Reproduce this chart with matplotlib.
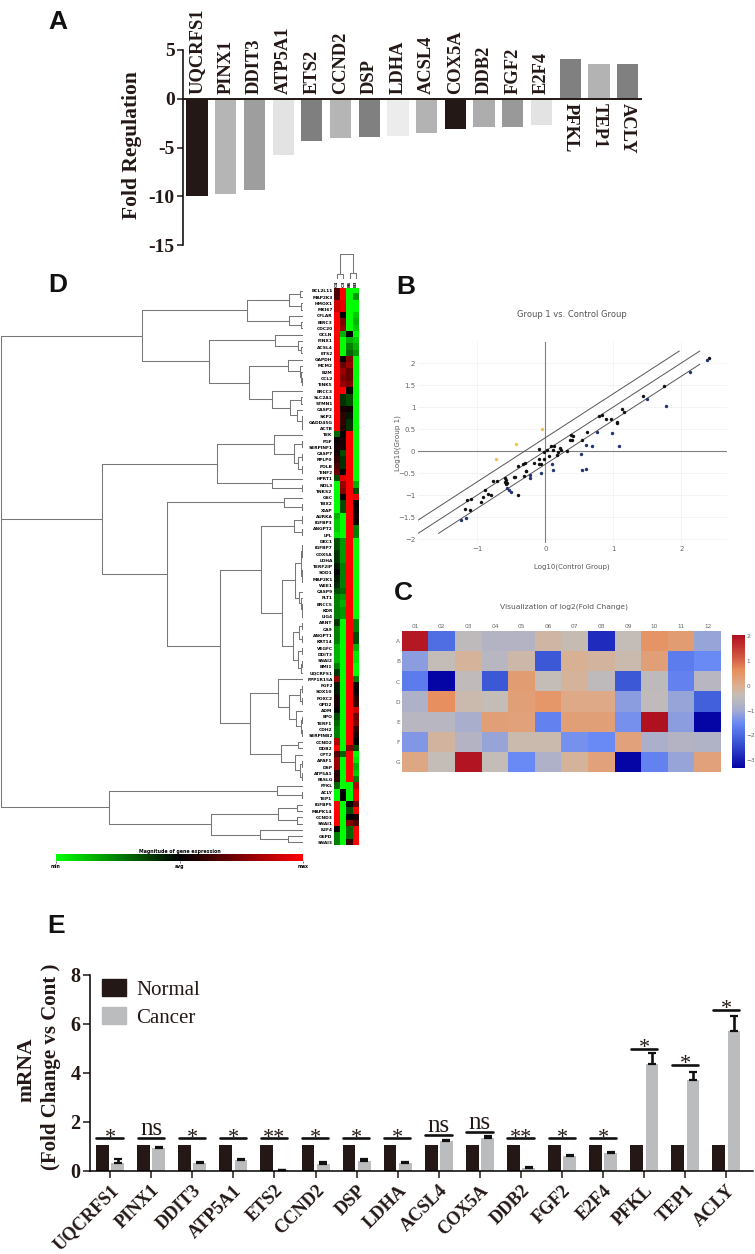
import numpy as np
import matplotlib
matplotlib.use("Agg")
import matplotlib.pyplot as plt
from matplotlib.colors import LinearSegmentedColormap
from matplotlib.patches import Patch

W, H = 755, 1254
SERIF = "Liberation Serif"

# panel A
genes_a = ["UQCRFS1", "PINX1", "DDIT3", "ATP5A1", "ETS2", "CCND2", "DSP", "LDHA", "ACSL4",
           "COX5A", "DDB2", "FGF2", "E2F4", "PFKL", "TEP1", "ACLY"]
fold_reg = [-10, -9.8, -9.4, -5.8, -4.3, -4.0, -3.95, -3.85, -3.5, -3.1, -2.9, -2.85, -2.65, 4.1, 3.6, 3.55]
greys_a = ["#231815", "#b5b5b5", "#9e9e9e", "#e3e3e3", "#7f7f7f", "#b5b5b5", "#808080", "#ececec",
           "#b3b3b3", "#231815", "#adadad", "#999999", "#e3e3e3", "#808080", "#b3b3b3", "#808080"]

# panel D
genes_d = ["BCL2L11", "MAP2K3", "HMOX1", "MKI67", "CFLAR", "BIRC3", "CDC20", "OCLN", "PINX1", "ACSL4", "ETS2",
           "GAPDH", "MCM2", "B2M", "CCL2", "TINK5", "ERCC3", "SLC2A1", "STMN1", "CASP2", "SKP2", "GADD45G", "ACTB",
           "TEK", "PGF", "SERPINF1", "CASP7", "RPLP0", "POLB", "TINF2", "HPRT1", "NOL3", "TNKS2", "GSC", "TBX2",
           "XIAP", "AURKA", "IGFBP3", "ANGPT2", "LPL", "DKC1", "IGFBP7", "COX5A", "LDHA", "TERF2IP", "SOD1",
           "MAP2K1", "WEE1", "CASP9", "FLT1", "ERCC5", "KDR", "LIG4", "ARNT", "CA9", "ANGPT1", "KRT14", "VEGFC",
           "DDIT3", "SNAI2", "BMI1", "UQCRFS1", "PPP1R15A", "FGF2", "SOX10", "FOXC2", "GPD2", "ADM", "EPO", "TERF1",
           "CDH2", "SERPINB2", "CCND2", "DDB2", "CPT2", "APAF1", "DSP", "ATP5A1", "FASLG", "PFKL", "ACLY", "TEP1",
           "IGFBP5", "MAPK14", "CCND3", "SNAI1", "E2F4", "G6PD", "SNAI3"]
samples_d = ["C4", "C3", "B6", "B3"]
heat_col1 = [.3, .3, .8, .8, 1, 1, 1, 1, 1, 1, 1, 1, 1, 1, 1, 1, 1, 1, 1, 1, 1, 1, 1,
             -.4, .05, .1, .1, .2, .3, .4, -.3, -1, -1, -1, -1, -1, -.7, -.8, -.8, -.9,
             -.3, -.3, -.2, -.2, -.1, 0, -.1, -.15, -.3, -.5, -.5, -.5, -.5, -.2, -.5, -.5, -.5, -.7, -.7, -.7, -.5, -.2,
             .6, -.1, -.1, .1, .1, 0, -.3, -.4, -.5, -.5, .7, 1, .3, .6, .6, .15, .2,
             -.4, -1, -1, 1, 1, 1, 1, 0, -.5, -.5]
heat_col2 = [1, 1, .9, .9, 0, .5, .6, -.7, -1, -1, -1, 0, .4, .6, .5, .6, 1, -.2, -.2, .1, .2, .2, .15,
             0, .1, .1, -.3, -.2, -.2, 0, .9, .6, .5, 0, -.3, -.3, -1, -1, -1, -1,
             -.6, -.6, -.6, -.6, -.5, -.5, -.5, -.5, -.4, -.6, -.7, -.6, -.6, -1, -1, -1, -1, -1, -1, -1, -1, -1,
             -1, -1, -1, -1, -1, -1, -1, -1, -1, -1, -1, -1, -.4, -1, -1, -1, -1,
             -1, 0, 0, -1, -1, -1, -1, -1, -1, -1]
heat_col3 = [-1, -1, -1, -1, -1, -1, -1, 0, -.7, -.5, -.4, .5, .6, .4, .4, .5, 0, -.3, -.3, .05, -.1, -.2, -.2,
             1, 1, 1, 1, 1, 1, 1, 1, 1, 1, 1, 1, 1, 1, 1, 1, 1,
             1, 1, 1, 1, 1, 1, 1, 1, 1, 1, 1, 1, 1, 1, 1, 1, 1, 1, 1, 1, 1, 1,
             1, 1, 1, 1, 1, 1, 1, 1, 1, 1, 1, .5, 1, 1, 1, 1, 1,
             -1, -1, -1, 0, -.3, 0, .5, -.4, -.4, .2]
heat_col4 = [-1, -.6, -1, -1, -.8, -.7, -.8, -1, -.8, -.7, -.6, -1, -1, -1, -1, -1, -1, -1, -1, -1, -1, -1, -1,
             -1, -1, -1, -1, -1, -1, -1, -1, -.7, -.3, .9, 0, .05, .1, .05, -.5, -.5,
             -1, -1, -1, -1, -1, -1, -1, -1, -1, -1, -1, -1, -1, -.5, -.5, -.3, -.3, -.7, -.9, -.9, -1, -1,
             -.5, .05, .05, .15, .2, .8, .4, .5, .2, .1, 0, -.3, -1, -.9, -.7, -.8, -.5,
             .7, 1, 1, .4, 1, .1, .3, 1, 1, 1]

# merge distances of the gene tree, leaves are row numbers
tree_top = (161,
            (56, (14, (3, 0, 1), (2, 2, 3)), (14.5, 4, (2, 5, 6))),
            (94,
             (28, 7, (5, 8, (2, 9, 10))),
             (54.5,
              (15.5, 11, (3, 12, (2, 13, (1, 14, 15)))),
              (31.3, 16, (13.3, (2, 17, 18), (6, 19, (1, 20, (1, 21, 22))))))))
tree_mid = (201,
            (86.3,
             (28.7, 23, (9, (1, 24, 25), (5, (1, 26, 27), (1, 28, 29)))),
             (31, 30, (1, 31, 32))),
            (136.3,
             (19.3, 33, (1, 34, 35)),
             (83.3,
              (42,
               (9, (1, 36, 37), (1, 38, 39)),
               (21,
                (8,
                 (2.5, (1, (0.5, 40, 41), (0.5, 42, 43)), (1, (0.5, 44, 45), (0.5, 46, 47))),
                 (4, 48, (2, 49, (1.5, 50, (1, 51, 52))))),
                (10,
                 (4, (1, 53, 54), (1, 55, 56)),
                 (5, (1, 57, 58), (2, (1, 59, 60), 61))))),
              (53,
               (24.7, 62, (13.7, (3, (1, 63, 64), (1, 65, 66)), (7, 67, (2, (1, 68, 69), (1, 70, 71))))),
               (22, (5, 72, 73), (8, 74, (3, (1, 75, 76), (1, 77, 78))))))))
tree_bot = (194,
            (25.7, 79, (1, 80, 81)),
            (92,
             (24.7, (6, 82, 83), (6, 84, 85)),
             (43.3, 86, (14.7, 87, 88))))
tree_root = (302.5, tree_top, tree_mid, tree_bot)
tree_cols = (25, (5, 0, 1), (6, 2, 3))

# panel B
x_black = [2.41, 1.74, 1.44, 1.13, 1.16, .79, .84, .89, .97, 1.05, 1.05, .62, .38, .41, .36, .39, .54, -.09, .08, .13,
           .03, -.015, .12, .22, .235, .18, .17, .32, .05, -.015, -.09, -.09, -.07, -.17, -.33, -.30, -.40, -.29, -.28,
           -.31, -.46, -.44, -.59, -.58, -.59, -.56, -.58, -.71, -.77, -.40, -.88, -.84, -.80, -.92, -.94, -1.09, -1.15,
           -1.18, -1.10]
y_black = [2.12, 1.48, 1.24, .96, .89, .80, .81, .73, .73, .67, .64, .43, .37, .34, .24, .24, .24, .05, .11, .11,
           .02, -.02, .02, .06, .03, -.03, -.08, .01, -.11, -.17, -.18, -.30, -.29, -.27, -.29, -.28, -.33, -.45, -.46,
           -.56, -.58, -.58, -.61, -.66, -.70, -.72, -.76, -.69, -.69, -1.01, -.89, -.97, -1.01, -1.05, -1.16, -1.10,
           -1.12, -1.31, -1.34]
x_blue = [2.38, 2.13, 1.49, 1.77, .76, .98, .60, .68, 1.08, .52, .10, .12, -.07, .54, .60, -.22, -.22, -.56, -.53, -.51,
          -1.17, -1.24]
y_blue = [2.06, 1.80, 1.18, 1.02, .43, .41, .13, .11, .11, -.06, -.30, -.42, -.51, -.44, -.40, -.54, -.61, -.85, -.89,
          -.94, -1.53, -1.57]
x_yellow = [-.73, -.43, -.05]
y_yellow = [-.19, .17, .49]
line_x = [-1.87, 2.27]
fold_offset = 0.301

# panel C
plate_rows = ["A", "B", "C", "D", "E", "F", "G"]
plate_cols = ["01", "02", "03", "04", "05", "06", "07", "08", "09", "10", "11", "12"]
row_a = [1.9, -1.9, -.5, -.7, -.7, -.2, -.35, -2.8, -.4, .5, .35, -1.1]
row_b = [-1.2, -.4, -.1, -.6, -.25, -2.2, -.05, -.15, -.3, .3, -1.7, -1.5]
row_c = [-1.7, -3.3, -.45, -2.2, .35, -.4, -.1, -.5, -2.2, -.5, -1.6, -.6]
row_d = [-.8, .6, -.3, -.4, .3, .45, .1, .1, -1.2, -.45, -1.1, -2.1]
row_e = [-.6, -.6, -.9, .3, .25, -1.6, .3, .3, -1.4, 2.0, -1.2, -3.3]
row_f = [-1.3, -.15, -.7, -1.1, -.3, -.3, -1.4, -1.5, .25, -.85, -.7, -.75]
row_g = [.15, -.4, 1.95, -.4, -1.5, -.8, -.1, .25, -3.3, -1.6, -1.1, .25]

# panel E
genes_e = genes_a
normal = [1.05] * 16
cancer = [.31, .93, .34, .45, .05, .27, .42, .34, 1.21, 1.35, .14, .61, .73, 4.38, 3.7, 5.7]
cancer_err = [.17, .04, .03, .04, 0, .08, .08, .03, .06, .09, .04, .06, .06, .44, .33, .63]
sig_h = [1.33, 1.33, 1.33, 1.33, 1.33, 1.33, 1.33, 1.33, 1.48, 1.6, 1.33, 1.33, 1.33, 4.97, 4.34, 6.57]
sig_txt = ["*", "ns", "*", "*", "**", "*", "*", "*", "ns", "ns", "**", "*", "*", "*", "*", "*"]


def px_axes(x0, y0, x1, y1):
    return fig.add_axes([x0 / W, 1 - y1 / H, (x1 - x0) / W, (y1 - y0) / H])


def fig_text(x, y, s, **kw):
    fig.text(x / W, 1 - y / H, s, **kw)


def draw_tree(ax, node, flip=False):
    # n-ary merge: stem from each child to this height, then one bar across them
    if isinstance(node, int):
        return node, 0
    d = node[0]
    pos = []
    for child in node[1:]:
        p, cd = draw_tree(ax, child, flip)
        pos.append(p)
        xs, ys = [cd, d], [p, p]
        ax.plot(*((ys, xs) if flip else (xs, ys)), color="#777777", lw=0.75, solid_capstyle="butt")
    xs, ys = [d, d], [min(pos), max(pos)]
    ax.plot(*((ys, xs) if flip else (xs, ys)), color="#777777", lw=0.75, solid_capstyle="projecting")
    return (min(pos) + max(pos)) / 2, d


fig = plt.figure(figsize=(W / 100, H / 100), dpi=100)

for letter, x, y in [("A", 48, 29), ("D", 48, 292), ("B", 396, 294), ("C", 394, 600), ("E", 47, 933)]:
    fig_text(x, y, letter, family="Liberation Sans", weight="bold", fontsize=19, va="baseline", color="#111111")

# A
ax = px_axes(183, 50, 642, 245)
ax.bar(range(16), fold_reg, width=0.74, color=greys_a)
ax.set_xlim(-0.488, 15.5)
ax.set_ylim(-15, 5)
for sp in ["top", "right", "bottom"]:
    ax.spines[sp].set_visible(False)
ax.spines["left"].set_linewidth(1.1)
ax.axhline(0, color="#231815", lw=1.4, zorder=3)
ax.set_xticks([])
ax.set_yticks([-15, -10, -5, 0, 5])
ax.set_yticklabels(["-15", "-10", "-5", "0", "5"], family=SERIF, weight="bold", fontsize=14, color="#231815")
ax.tick_params(axis="y", length=4.5, width=1.1, pad=1.5, color="#231815")
fig_text(131.6, 145, "Fold Regulation", rotation=90, ha="center", va="center", family=SERIF, weight="bold",
         fontsize=15.5, color="#231815")
for i, g in enumerate(genes_a):
    if fold_reg[i] < 0:
        ax.text(i, 0.45, g, rotation=90, ha="center", va="bottom", family=SERIF, weight="bold",
                fontsize=13.3, color="#231815")
    else:
        ax.text(i, -0.46, g, rotation=270, ha="center", va="top", family=SERIF, weight="bold",
                fontsize=13.3, color="#231815")

# D heat map
red_green = LinearSegmentedColormap.from_list("rg", ["#00ff00", "#000000", "#ff0000"])
ax = px_axes(334, 287.6, 359, 845.5)
heat = np.array([heat_col1, heat_col2, heat_col3, heat_col4]).T
ax.imshow(heat, aspect="auto", cmap=red_green, vmin=-1, vmax=1, interpolation="nearest")
ax.set_xticks([])
ax.set_yticks(range(len(genes_d)))
ax.set_yticklabels(genes_d, family="DejaVu Sans", weight="bold", fontsize=3.2)
ax.tick_params(axis="y", length=0, pad=1)
for sp in ax.spines.values():
    sp.set_visible(False)

ax = px_axes(0, 287.6, 303, 845.5)
draw_tree(ax, tree_root)
ax.set_xlim(303, 0)
ax.set_ylim(88.5, -0.5)
ax.axis("off")

ax = px_axes(334, 254, 359, 279)
draw_tree(ax, tree_cols, flip=True)
ax.set_xlim(-0.5, 3.5)
ax.set_ylim(0, 25)
ax.axis("off")
for i, s in enumerate(samples_d):
    fig_text(337.2 + i * 6.25, 286.5, s, rotation=90, ha="center", va="bottom", family="DejaVu Sans",
             weight="bold", fontsize=3.2)

ax = px_axes(56, 854, 303, 860.7)
ax.imshow(np.linspace(-1, 1, 256)[None, :], aspect="auto", cmap=red_green, extent=[0, 2, 0, 1])
ax.set_yticks([])
ax.set_xticks([0, 1, 2])
ax.set_xticklabels(["min", "avg", "max"], family="DejaVu Sans", weight="bold", fontsize=3.3)
ax.tick_params(axis="x", length=1.5, width=0.4, pad=0.8)
ax.set_title("Magnitude of gene expression", family="DejaVu Sans", weight="bold", fontsize=3.4, pad=1)
for sp in ax.spines.values():
    sp.set_visible(False)

# B
ax = px_axes(418, 341.7, 726.7, 543)
ax.set_xlim(-1.872, 2.668)
ax.set_ylim(-2.09, 2.484)
ax.set_xticks([-1, 0, 1, 2])
ax.set_yticks([-2, -1.5, -1, -0.5, 0, 0.5, 1, 1.5, 2])
ax.set_xticklabels(["\u22121", "0", "1", "2"])
ax.set_yticklabels(["\u22122", "\u22121.5", "\u22121", "\u22120.5", "0", "0.5", "1", "1.5", "2"])
ax.tick_params(length=0, labelsize=5, labelcolor="#666666", pad=2)
ax.grid(True, color="#f0f0f0", lw=0.5)
ax.set_axisbelow(True)
for sp in ax.spines.values():
    sp.set_visible(False)
ax.axhline(0, color="#808080", lw=0.8, zorder=1)
ax.axvline(0, color="#808080", lw=0.8, zorder=1)
lx = np.array(line_x)
ax.plot(lx, lx, color="#555555", lw=0.7, zorder=2)
ax.plot([lx[0], lx[1] - fold_offset], [lx[0] + fold_offset, lx[1]], color="#555555", lw=0.7, zorder=2)
ax.plot([lx[0] + fold_offset, lx[1]], [lx[0], lx[1] - fold_offset], color="#555555", lw=0.7, zorder=2)
ax.scatter(x_black, y_black, s=6, color="#111111", linewidths=0, zorder=3)
ax.scatter(x_blue, y_blue, s=6, color="#24346e", linewidths=0, zorder=3)
ax.scatter(x_yellow, y_yellow, s=6, color="#f3c35a", linewidths=0, zorder=3)
fig_text(571.7, 314.7, "Group 1 vs. Control Group", ha="center", va="center", fontsize=6, color="#555555")
fig_text(571.7, 566.7, "Log10(Control Group)", ha="center", va="center", fontsize=5, color="#555555")
fig_text(397.3, 442.7, "Log10(Group 1)", ha="center", va="center", rotation=90, fontsize=5.1, color="#555555")

# C
plate_cmap = LinearSegmentedColormap.from_list(
    "plate",
    [(0, "#0505a5"), (1.1 / 5.33, "#3d5ad8"), (1.8 / 5.33, "#6a8af5"), (2.3 / 5.33, "#a3abd0"),
     (2.9 / 5.33, "#c4bdb8"), (3.3 / 5.33, "#dbaf90"), (3.9 / 5.33, "#e8905f"), (4.6 / 5.33, "#cc4a3c"),
     (1, "#b0101f")])
ax = px_axes(402, 631.3, 721, 772)
plate = np.array([row_a, row_b, row_c, row_d, row_e, row_f, row_g])
im = ax.imshow(plate, aspect="auto", cmap=plate_cmap, vmin=-3.3, vmax=2.03, interpolation="nearest")
ax.xaxis.tick_top()
ax.set_xticks(range(12))
ax.set_xticklabels(plate_cols)
ax.set_yticks(range(7))
ax.set_yticklabels(plate_rows)
ax.tick_params(length=0, labelsize=4.2, labelcolor="#666666", pad=1.5)
for sp in ax.spines.values():
    sp.set_visible(False)
fig_text(564, 606.5, "Visualization of log2(Fold Change)", ha="center", va="center", fontsize=5.4, color="#555555")
cax = px_axes(731.7, 635.3, 745.3, 767.7)
cb = fig.colorbar(im, cax=cax)
cb.set_ticks([2, 1, 0, -1, -2, -3])
cb.set_ticklabels(["2", "1", "0", "\u22121", "\u22122", "\u22123"])
cb.ax.tick_params(length=0, labelsize=4.2, labelcolor="#666666", pad=1)
cb.outline.set_visible(False)

# E
ax = px_axes(90, 974.7, 753, 1171)
pos = np.arange(16)
ax.bar(pos - 0.185, normal, width=0.311, color="#231815", label="Normal")
ax.bar(pos + 0.185, cancer, width=0.311, color="#bbbcbe", label="Cancer")
ax.errorbar(pos + 0.185, cancer, yerr=[[0] * 16, cancer_err], fmt="none", ecolor="#111111",
            elinewidth=1.9, capsize=2.6, capthick=1.6)
ax.set_xlim(-0.487, 15.645)
ax.set_ylim(0, 8)
ax.set_xticks(pos)
ax.set_xticklabels(genes_e, rotation=45, ha="right", rotation_mode="anchor", family=SERIF, weight="bold",
                   fontsize=13.2, color="#231815")
ax.set_yticks([0, 2, 4, 6, 8])
ax.set_yticklabels(["0", "2", "4", "6", "8"], family=SERIF, weight="bold", fontsize=14.5, color="#231815")
ax.tick_params(axis="y", length=5, width=1.1, pad=2, color="#231815")
ax.tick_params(axis="x", length=5, width=1.1, pad=3, color="#231815")
for sp in ["top", "right"]:
    ax.spines[sp].set_visible(False)
ax.spines["left"].set_linewidth(1.1)
ax.spines["bottom"].set_linewidth(1.1)
for i in range(16):
    ax.plot([i - 0.33, i + 0.31], [sig_h[i], sig_h[i]], color="#111111", lw=1.9, solid_capstyle="round", zorder=3)
    if sig_txt[i] == "ns":
        ax.text(i, sig_h[i] + 0.12, "ns", ha="center", va="baseline", family=SERIF, fontsize=18, color="#231815")
    else:
        ax.text(i, sig_h[i] - 0.18, sig_txt[i], ha="center", va="baseline", family=SERIF, fontsize=16, color="#231815")
ax.legend(handles=[Patch(color="#231815", label="Normal"), Patch(color="#bbbcbe", label="Cancer")],
          loc="upper left", bbox_to_anchor=(0.009, 1.01), frameon=False, handlelength=1.15, handleheight=0.91,
          handletextpad=0.5, labelspacing=0.33, borderpad=0.1, borderaxespad=0.2,
          prop={"family": SERIF, "size": 15}, labelcolor="#231815")
fig_text(26, 1070, "mRNA", rotation=90, ha="center", va="center", family=SERIF, weight="bold", fontsize=15.5,
         color="#231815")
fig_text(51, 1067, "(Fold Change vs Cont )", rotation=90, ha="center", va="center", family=SERIF, weight="bold",
         fontsize=15, color="#231815")

fig.savefig("out.png", dpi=100, facecolor="white")
